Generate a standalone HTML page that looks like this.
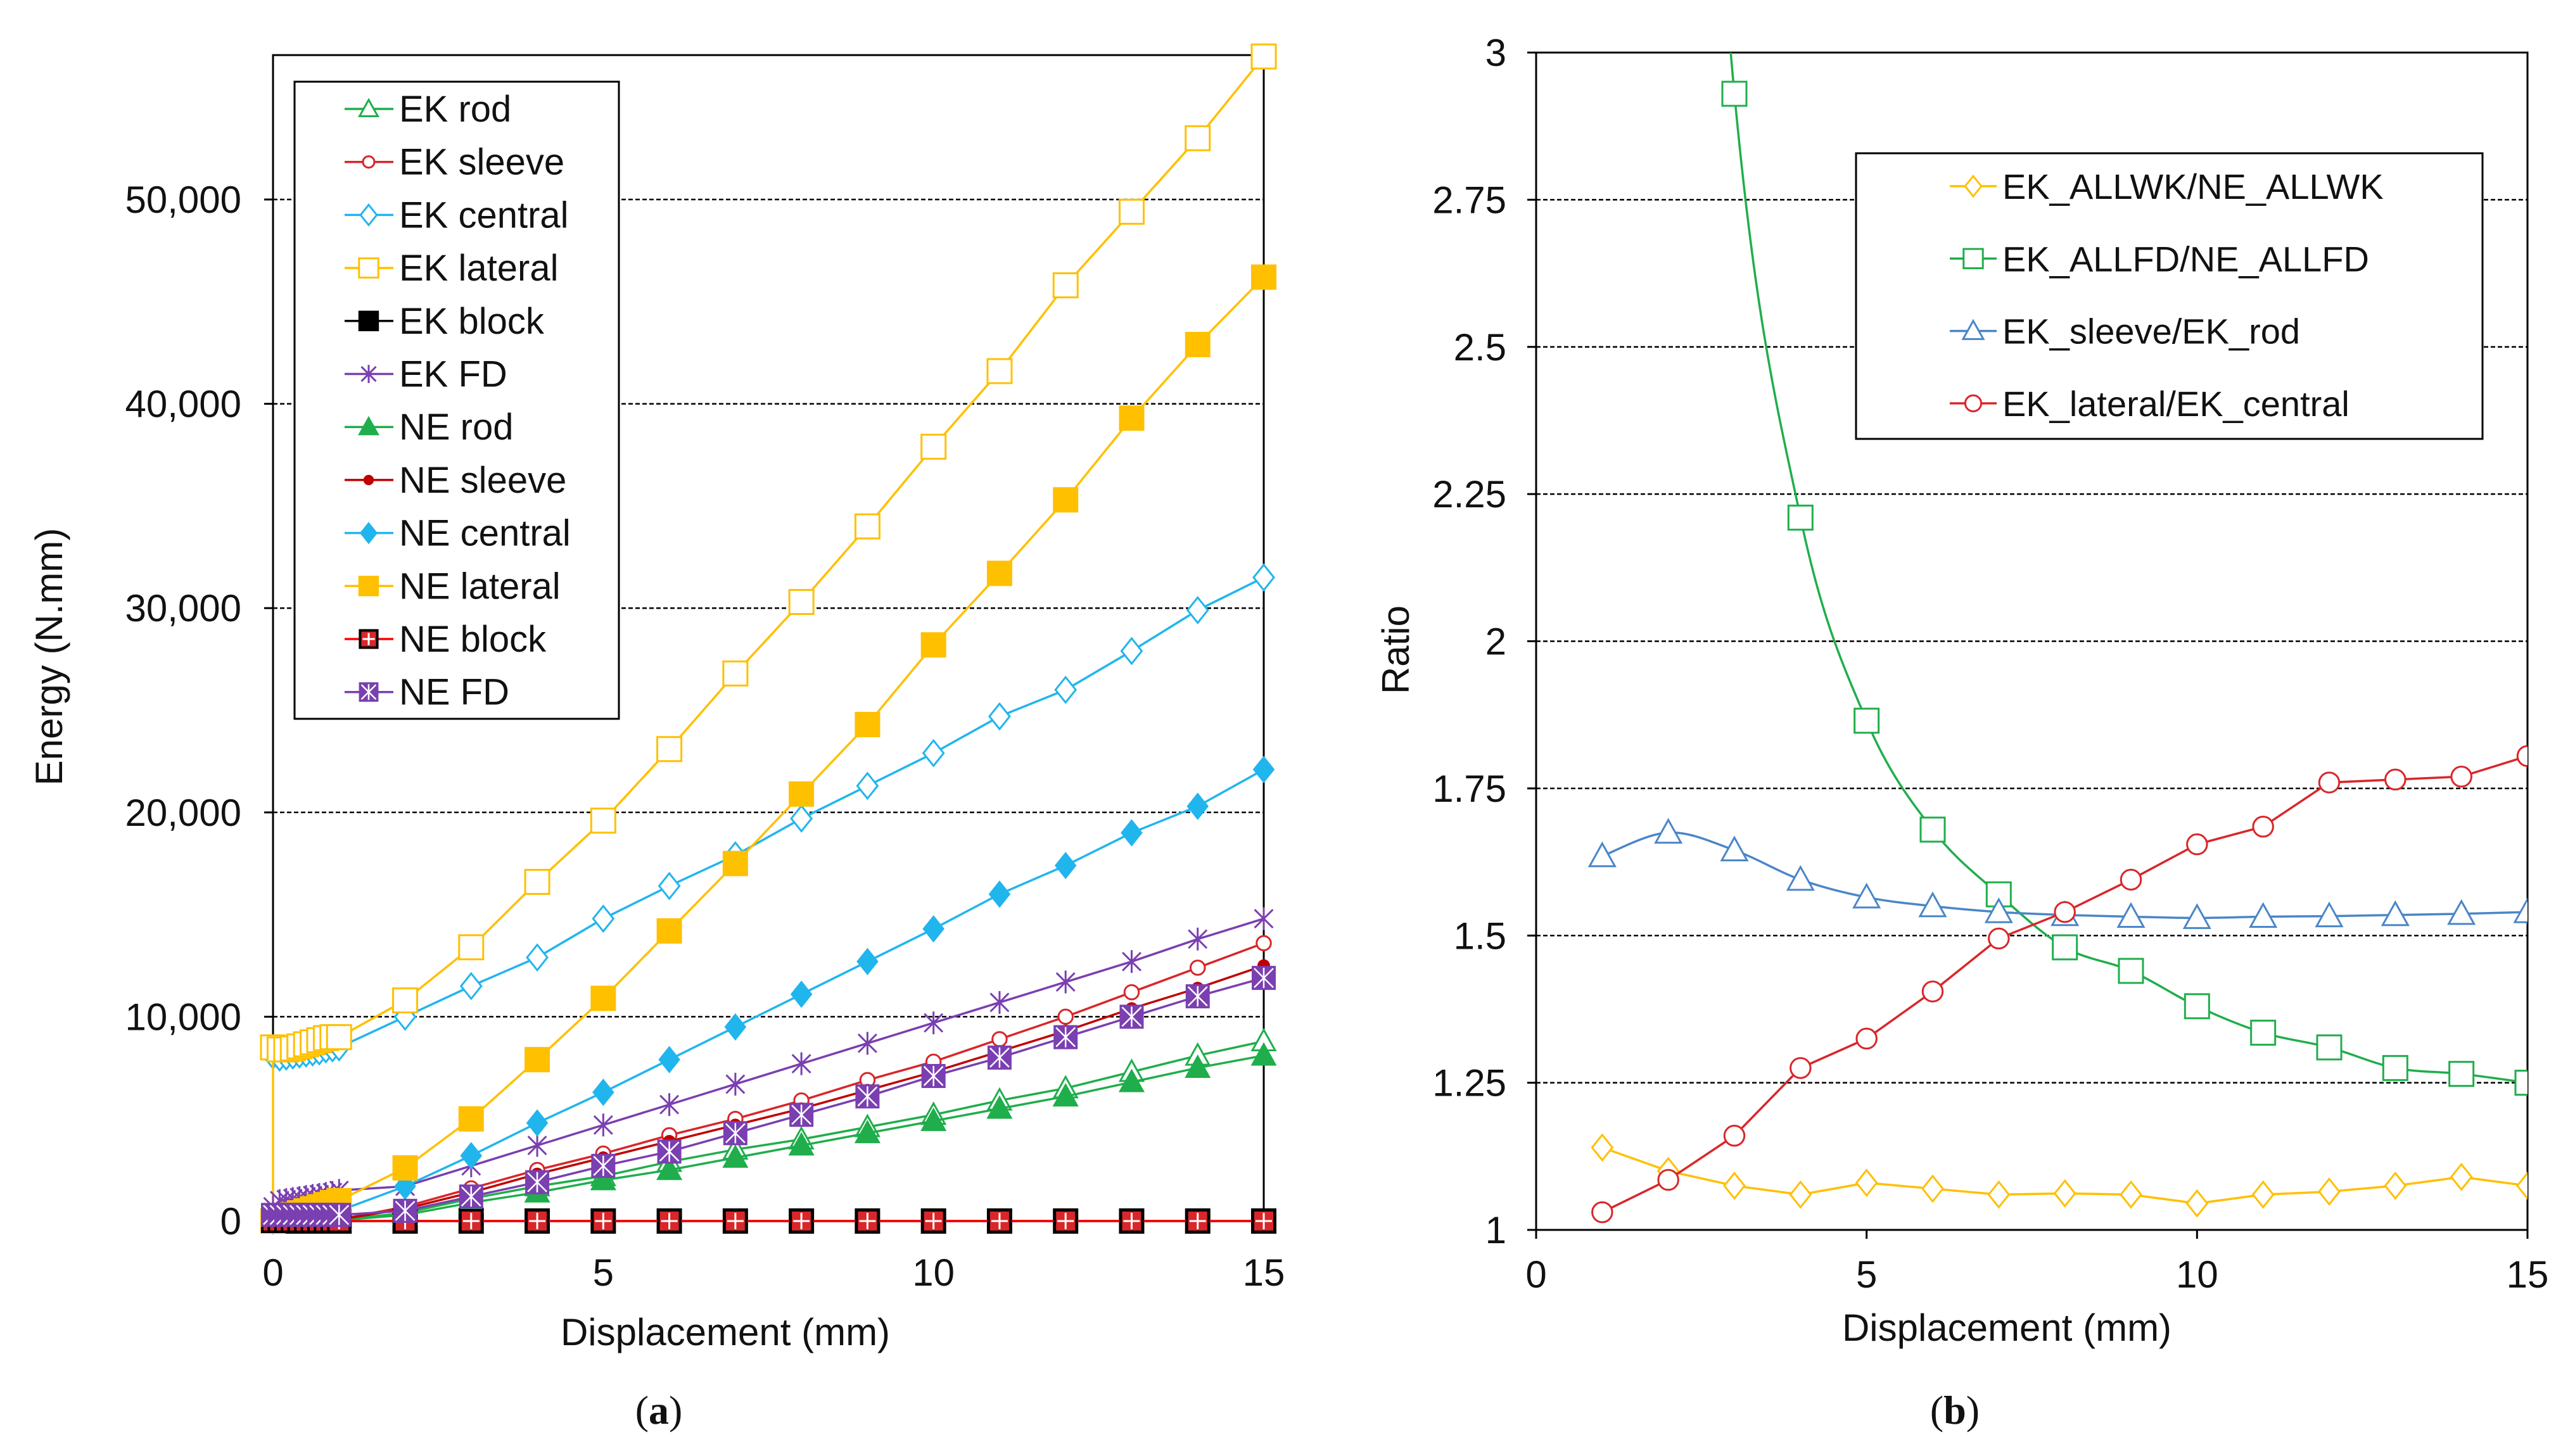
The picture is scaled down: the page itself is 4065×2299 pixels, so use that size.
<!DOCTYPE html>
<html><head><meta charset="utf-8"><style>
html,body{margin:0;padding:0;background:#fff}
svg{display:block}
text{font-family:"Liberation Sans",Arial,sans-serif;fill:#111}
</style></head><body>
<svg id="root" width="4065" height="2299" viewBox="0 0 4065 2299" xmlns="http://www.w3.org/2000/svg">
<g id="chartA"></g>
<g id="chartB"></g>
<text x="1040" y="2248" text-anchor="middle" style="font-family:'Liberation Serif',serif;font-size:64px;">(<tspan font-weight="bold">a</tspan>)</text>
<text x="3086" y="2248" text-anchor="middle" style="font-family:'Liberation Serif',serif;font-size:64px;">(<tspan font-weight="bold">b</tspan>)</text>
</svg>
<script>
// ---------- Chart A data ----------
const xsA = [0,0.1,0.2,0.3,0.4,0.5,0.6,0.7,0.8,0.9,1,2,3,4,5,6,7,8,9,10,11,12,13,14,15];
const ekRod     = [0,0,0,0,0,0,0,0,0,0,50,400,1100,1700,2200,2900,3500,4000,4600,5200,5900,6500,7300,8100,8800];
const ekSleeve  = [0,0,0,0,0,0,0,0,0,0,80,700,1600,2500,3300,4200,5000,5900,6900,7800,8900,10000,11200,12400,13600];
const ekCentral = [8100,8000,8050,8100,8150,8200,8250,8300,8400,8450,8500,10000,11500,12900,14800,16400,17900,19700,21300,22900,24700,26000,27900,29900,31500];
const ekLateralX= [0,0,0.1,0.2,0.3,0.4,0.5,0.6,0.7,0.8,0.9,1,2,3,4,5,6,7,8,9,10,11,12,13,14,15];
const ekLateral = [0,8500,8400,8400,8450,8550,8650,8750,8850,8950,9000,9000,10800,13400,16600,19600,23100,26800,30300,34000,37900,41600,45800,49400,53000,57000];
const ekBlock   = [0,0,0,0,0,0,0,0,0,0,0,0,0,0,0,0,0,0,0,0,0,0,0,0,0];
const ekFD      = [700,1000,1050,1100,1150,1200,1250,1300,1350,1400,1500,1700,2700,3700,4700,5700,6700,7700,8700,9700,10700,11700,12700,13800,14800];
const neRod     = [0,0,0,0,0,0,0,0,0,0,40,300,900,1400,2000,2500,3100,3700,4300,4900,5500,6100,6800,7500,8100];
const neSleeve  = [0,0,0,0,0,0,0,0,0,0,70,600,1400,2300,3100,3900,4700,5500,6400,7300,8300,9300,10400,11400,12500];
const neCentral = [0,50,100,150,200,250,300,350,400,450,500,1700,3200,4800,6300,7900,9500,11100,12700,14300,16000,17400,19000,20300,22100];
const neLateral = [0,100,200,300,400,500,600,700,800,900,1000,2600,5000,7900,10900,14200,17500,20900,24300,28200,31700,35300,39300,42900,46200];
const neBlock   = [0,0,0,0,0,0,0,0,0,0,0,0,0,0,0,0,0,0,0,0,0,0,0,0,0];
const neFD      = [300,300,300,300,300,300,300,300,300,300,300,500,1200,1900,2700,3400,4300,5200,6100,7100,8000,9000,10000,11000,11900];
const yTicksA = [0,10000,20000,30000,40000,50000];
const yTickLabelsA = ["0","10,000","20,000","30,000","40,000","50,000"];
const xTicks = [0,5,10,15];
const xTickLabels = ["0","5","10","15"];

// ---------- Chart B data ----------
const xsB = [1,2,3,4,5,6,7,8,9,10,11,12,13,14,15];
const allwk = [1.14,1.10,1.075,1.06,1.08,1.07,1.06,1.062,1.06,1.045,1.06,1.065,1.075,1.09,1.075];
const allfdX = [2,3,4,5,6,7,8,9,10,11,12,13,14,15];
const allfd = [4.6,2.93,2.21,1.865,1.68,1.57,1.48,1.44,1.38,1.335,1.31,1.275,1.265,1.25];
const sleeveRod = [1.635,1.675,1.645,1.595,1.565,1.55,1.54,1.535,1.532,1.53,1.532,1.533,1.535,1.537,1.54];
const latCentral = [1.03,1.085,1.16,1.275,1.325,1.405,1.495,1.54,1.595,1.655,1.685,1.76,1.765,1.77,1.805];
const yTicksB = [1,1.25,1.5,1.75,2,2.25,2.5,2.75,3];
const yTickLabelsB = ["1","1.25","1.5","1.75","2","2.25","2.5","2.75","3"];

const NS = "http://www.w3.org/2000/svg";
function mk(tag, parent, attrs){
  const e = document.createElementNS(NS, tag);
  for (const k in attrs) e.setAttribute(k, attrs[k]);
  parent.appendChild(e);
  return e;
}
const C = {green:"#1fae4b", red:"#d9262a", blue:"#21b5ee", yellow:"#ffc000", purple:"#7a3fb0", black:"#000", blue2:"#4a86c8"};

function marker(parent, type, cx, cy, color, s){
  let e;
  const h = s/2;
  if (type==="tri"){
    e = mk("polygon", parent, {points:`${cx},${cy-h} ${cx-h},${cy+h*0.8} ${cx+h},${cy+h*0.8}`, fill:"#fff", stroke:color, "stroke-width":3});
  } else if (type==="triF"){
    e = mk("polygon", parent, {points:`${cx},${cy-h} ${cx-h},${cy+h*0.8} ${cx+h},${cy+h*0.8}`, fill:color, stroke:color, "stroke-width":3});
  } else if (type==="circ"){
    e = mk("circle", parent, {cx:cx, cy:cy, r:h*0.75, fill:"#fff", stroke:color, "stroke-width":3});
  } else if (type==="circF"){
    e = mk("circle", parent, {cx:cx, cy:cy, r:h*0.6, fill:color, stroke:color, "stroke-width":2});
  } else if (type==="dia"){
    e = mk("polygon", parent, {points:`${cx},${cy-h} ${cx+h*0.8},${cy} ${cx},${cy+h} ${cx-h*0.8},${cy}`, fill:"#fff", stroke:color, "stroke-width":3});
  } else if (type==="diaF"){
    e = mk("polygon", parent, {points:`${cx},${cy-h} ${cx+h*0.8},${cy} ${cx},${cy+h} ${cx-h*0.8},${cy}`, fill:color, stroke:color, "stroke-width":2});
  } else if (type==="sq"){
    e = mk("rect", parent, {x:cx-h, y:cy-h, width:s, height:s, fill:"#fff", stroke:color, "stroke-width":3});
  } else if (type==="sqF"){
    e = mk("rect", parent, {x:cx-h, y:cy-h, width:s, height:s, fill:color, stroke:color, "stroke-width":2});
  } else if (type==="star"){
    e = mk("path", parent, {d:`M${cx-h*0.8},${cy-h*0.8}L${cx+h*0.8},${cy+h*0.8}M${cx+h*0.8},${cy-h*0.8}L${cx-h*0.8},${cy+h*0.8}M${cx},${cy-h}L${cx},${cy+h}`, stroke:color, "stroke-width":3, fill:"none"});
  } else if (type==="sqCross"){
    e = mk("g", parent, {});
    mk("rect", e, {x:cx-h, y:cy-h, width:s, height:s, fill:C.red, stroke:"#000", "stroke-width":4});
    mk("path", e, {d:`M${cx-h+4},${cy}L${cx+h-4},${cy}M${cx},${cy-h+4}L${cx},${cy+h-4}`, stroke:"#fff", "stroke-width":3});
  } else if (type==="sqStar"){
    e = mk("g", parent, {});
    mk("rect", e, {x:cx-h, y:cy-h, width:s, height:s, fill:C.purple, stroke:C.purple, "stroke-width":2});
    mk("path", e, {d:`M${cx-h+3},${cy-h+3}L${cx+h-3},${cy+h-3}M${cx+h-3},${cy-h+3}L${cx-h+3},${cy+h-3}M${cx},${cy-h+2}L${cx},${cy+h-2}`, stroke:"#fff", "stroke-width":2.5});
  }
  return e;
}

function smoothPath(pts){
  let d = `M${pts[0][0]},${pts[0][1]}`;
  for (let i=0;i<pts.length-1;i++){
    const p0=pts[Math.max(0,i-1)], p1=pts[i], p2=pts[i+1], p3=pts[Math.min(pts.length-1,i+2)];
    const t=0.5/3;
    const c1=[p1[0]+(p2[0]-p0[0])*t, p1[1]+(p2[1]-p0[1])*t];
    const c2=[p2[0]-(p3[0]-p1[0])*t, p2[1]-(p3[1]-p1[1])*t];
    d += `C${c1[0]},${c1[1]} ${c2[0]},${c2[1]} ${p2[0]},${p2[1]}`;
  }
  return d;
}

// ================= Chart A =================
(function(){
  const g = document.getElementById("chartA");
  const L=431, R=1995, T=87, B=1928;
  const xA = v => L + v/15*(R-L);
  const yA = v => B - v/50000*(B-315);
  // grid
  yTicksA.forEach((t,i)=>{
    if (t>0){
      const gl = mk("line", g, {x1:L, x2:R, y1:yA(t), y2:yA(t), stroke:"#000", "stroke-width":2.5, "stroke-dasharray":"7 4"});
      
      
    }
    const tk = mk("line", g, {x1:L-14, x2:L, y1:yA(t), y2:yA(t), stroke:"#000", "stroke-width":3});
    
    
    const lb = mk("text", g, {x:L-50, y:yA(t)+21, "text-anchor":"end", "font-size":60});
    lb.textContent = yTickLabelsA[i];
    
    
  });
  xTicks.forEach((t,i)=>{
    const tk = mk("line", g, {x1:xA(t), x2:xA(t), y1:B, y2:B+14, stroke:"#000", "stroke-width":3});
    
    
    const lb = mk("text", g, {x:xA(t), y:2030, "text-anchor":"middle", "font-size":60});
    lb.textContent = xTickLabels[i];
    
    
  });
  const frame = mk("rect", g, {x:L, y:T, width:R-L, height:B-T, fill:"none", stroke:"#000", "stroke-width":3});
  
  

  const series = [
    {name:"EK rod", xs:xsA, ys:ekRod, c:C.green, m:"tri", s:36},
    {name:"EK sleeve", xs:xsA, ys:ekSleeve, c:C.red, m:"circ", s:30},
    {name:"EK central", xs:xsA, ys:ekCentral, c:C.blue, m:"dia", s:40},
    {name:"EK lateral", xs:ekLateralX, ys:ekLateral, c:C.yellow, m:"sq", s:38},
    {name:"EK block", xs:xsA, ys:ekBlock, c:C.black, m:"sqF", s:38},
    {name:"EK FD", xs:xsA, ys:ekFD, c:C.purple, m:"star", s:36},
    {name:"NE rod", xs:xsA, ys:neRod, c:C.green, m:"triF", s:36},
    {name:"NE sleeve", xs:xsA, ys:neSleeve, c:"#c00000", m:"circF", s:30},
    {name:"NE central", xs:xsA, ys:neCentral, c:C.blue, m:"diaF", s:40},
    {name:"NE lateral", xs:xsA, ys:neLateral, c:C.yellow, m:"sqF", s:38},
    {name:"NE block", xs:xsA, ys:neBlock, c:"#ff0000", m:"sqCross", s:34},
    {name:"NE FD", xs:xsA, ys:neFD, c:C.purple, m:"sqStar", s:36}
  ];
  series.forEach(sr=>{
    const sg = mk("g", g, {});
    
    
    const pts = sr.xs.map((x,i)=>xA(x)+","+yA(sr.ys[i])).join(" ");
    const pl = mk("polyline", sg, {points:pts, fill:"none", stroke:sr.c, "stroke-width":3.5});
    
    
    sr.xs.forEach((x,i)=>{
      if (sr.name==="EK lateral" && i===0) return;
      const mm = marker(sg, sr.m, xA(x), yA(sr.ys[i]), sr.c, sr.s);
      
      
    });
  });

  // legend
  const lg = mk("g", g, {});
  
  
  const lbx = mk("rect", lg, {x:465, y:129, width:512, height:1006, fill:"#fff", stroke:"#000", "stroke-width":3});
  
  
  series.forEach((sr,i)=>{
    const cy = 172 + i*83.7;
    const eg = mk("g", lg, {});
    
    
    mk("line", eg, {x1:544, x2:621, y1:cy, y2:cy, stroke:sr.c, "stroke-width":3.5});
    marker(eg, sr.m, 582, cy, sr.c, sr.s*0.8);
    const t = mk("text", eg, {x:630, y:cy+20, "font-size":58});
    t.textContent = sr.name;
  });

  const yt = mk("text", g, {x:0, y:0, "text-anchor":"middle", "font-size":60, transform:"translate(98,1037) rotate(-90)"});
  yt.textContent = "Energy (N.mm)";
  
  
  const xt = mk("text", g, {x:1145, y:2124, "text-anchor":"middle", "font-size":60});
  xt.textContent = "Displacement (mm)";
  
  
})();

// ================= Chart B =================
(function(){
  const g = document.getElementById("chartB");
  const L=2425, R=3990, T=83, B=1942;
  const xB = v => L + v/15*(R-L);
  const yB = v => B - (v-1)/2*(B-T);
  const clip = mk("clipPath", g, {id:"clipB"});
  mk("rect", clip, {x:L, y:T, width:R-L, height:B-T});
  yTicksB.forEach((t,i)=>{
    if (t>1 && t<3){
      const gl = mk("line", g, {x1:L, x2:R, y1:yB(t), y2:yB(t), stroke:"#000", "stroke-width":2.5, "stroke-dasharray":"7 4"});
      
      
    }
    const tk = mk("line", g, {x1:L-14, x2:L, y1:yB(t), y2:yB(t), stroke:"#000", "stroke-width":3});
    
    
    const lb = mk("text", g, {x:L-47, y:yB(t)+21, "text-anchor":"end", "font-size":60});
    lb.textContent = yTickLabelsB[i];
    
    
  });
  xTicks.forEach((t,i)=>{
    const tk = mk("line", g, {x1:xB(t), x2:xB(t), y1:B, y2:B+14, stroke:"#000", "stroke-width":3});
    
    
    const lb = mk("text", g, {x:xB(t), y:2033, "text-anchor":"middle", "font-size":60});
    lb.textContent = xTickLabels[i];
    
    
  });
  const frame = mk("rect", g, {x:L, y:T, width:R-L, height:B-T, fill:"none", stroke:"#000", "stroke-width":3});
  
  

  const series = [
    {name:"EK_ALLWK/NE_ALLWK", xs:xsB, ys:allwk, c:C.yellow, m:"dia", s:40, smooth:false},
    {name:"EK_ALLFD/NE_ALLFD", xs:allfdX, ys:allfd, c:C.green, m:"sq", s:38, smooth:true},
    {name:"EK_sleeve/EK_rod", xs:xsB, ys:sleeveRod, c:C.blue2, m:"tri", s:40, smooth:true},
    {name:"EK_lateral/EK_central", xs:xsB, ys:latCentral, c:C.red, m:"circ", s:42, smooth:false}
  ];
  series.forEach(sr=>{
    const sg = mk("g", g, {"clip-path":"url(#clipB)"});
    
    
    const pts = sr.xs.map((x,i)=>[xB(x), yB(sr.ys[i])]);
    const pl = mk("path", sg, {d: sr.smooth ? smoothPath(pts) : "M"+pts.map(p=>p.join(",")).join("L"), fill:"none", stroke:sr.c, "stroke-width":3.5});
    
    
    sr.xs.forEach((x,i)=>{
      if (sr.ys[i] > 3) return;
      const mm = marker(sg, sr.m, xB(x), yB(sr.ys[i]), sr.c, sr.s);
      
      
    });
  });

  const lg = mk("g", g, {});
  
  
  const lbx = mk("rect", lg, {x:2930, y:242, width:989, height:451, fill:"#fff", stroke:"#000", "stroke-width":3});
  
  
  series.forEach((sr,i)=>{
    const cy = 294 + i*114.3;
    const eg = mk("g", lg, {});
    
    
    mk("line", eg, {x1:3078, x2:3152, y1:cy, y2:cy, stroke:sr.c, "stroke-width":3.5});
    marker(eg, sr.m, 3115, cy, sr.c, sr.s*0.8);
    const t = mk("text", eg, {x:3161, y:cy+20, "font-size":56});
    t.textContent = sr.name;
  });

  const yt = mk("text", g, {x:0, y:0, "text-anchor":"middle", "font-size":60, transform:"translate(2224,1026) rotate(-90)"});
  yt.textContent = "Ratio";
  
  
  const xt = mk("text", g, {x:3168, y:2117, "text-anchor":"middle", "font-size":60});
  xt.textContent = "Displacement (mm)";
  
  
})();
</script>
</body></html>
